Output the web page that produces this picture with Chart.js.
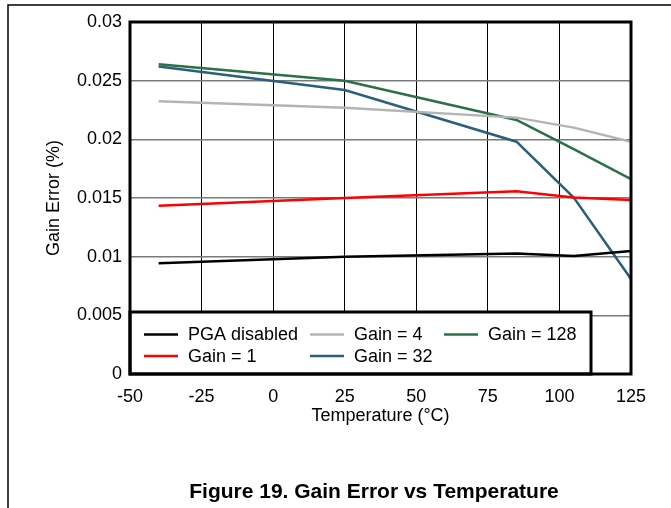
<!DOCTYPE html>
<html>
<head>
<meta charset="utf-8">
<script src="https://cdn.jsdelivr.net/npm/chart.js@4/dist/chart.umd.min.js"></script>
<style>
  html, body { margin: 0; padding: 0; background: #fff; }
  canvas { display: block; }
</style>
</head>
<body>
<canvas id="chart" width="671" height="508"></canvas>
<script>
// temperatures where the curves were measured
var temps = [-40, 25, 85, 105, 125];

// gain error (%) per configuration
var pgaDisabled = [0.00943, 0.0100, 0.01028, 0.01005, 0.01048];
var gain1 = [0.01434, 0.0150, 0.01557, 0.01505, 0.01483];
var gain4 = [0.02324, 0.0227, 0.02185, 0.0210, 0.0198];
var gain32 = [0.0262, 0.0242, 0.0198, 0.01503, 0.0081];
var gain128 = [0.02639, 0.0250, 0.02165, 0.01916, 0.0166];

var seriesNames = ['PGA disabled', 'Gain = 1', 'Gain = 4', 'Gain = 32', 'Gain = 128'];
var seriesColors = ['#000000', '#ff0000', '#b4b4b4', '#2b5f7e', '#2a7049'];
var seriesValues = [pgaDisabled, gain1, gain4, gain32, gain128];

var xTicks = [-50, -25, 0, 25, 50, 75, 100, 125];
var yTicks = [0, 0.005, 0.01, 0.015, 0.02, 0.025, 0.03];

var FONT = '"Liberation Sans", Arial, Helvetica, sans-serif';

function toPoints(values) {
    return values.map(function (v, i) { return { x: temps[i], y: v }; });
}

var datasets = seriesNames.map(function (name, i) {
    return {
        label: name,
        data: toPoints(seriesValues[i]),
        borderColor: seriesColors[i],
        backgroundColor: seriesColors[i],
        borderWidth: 2.5,
        pointRadius: 0,
        tension: 0,
        fill: false
    };
});

// frame, plot border, legend box and titles
var decorations = {
    id: 'decorations',
    afterDatasetsDraw: function (chart) {
        var ctx = chart.ctx;
        var a = chart.chartArea;
        ctx.save();

        // page frame
        ctx.strokeStyle = '#000';
        ctx.lineWidth = 1.5;
        ctx.beginPath();
        ctx.moveTo(8, 508);
        ctx.lineTo(8, 5);
        ctx.lineTo(671, 5);
        ctx.stroke();

        // legend box (column-major, 2 rows)
        var box = { left: a.left, top: 312, right: 591, bottom: a.bottom };
        ctx.fillStyle = '#fff';
        ctx.fillRect(box.left, box.top, box.right - box.left, box.bottom - box.top);
        ctx.lineWidth = 3;
        ctx.strokeRect(box.left, box.top, box.right - box.left, box.bottom - box.top);

        var colX = [144, 310, 444];
        var rowY = [334.5, 356];
        ctx.font = '18px ' + FONT;
        ctx.textBaseline = 'middle';
        ctx.textAlign = 'left';
        chart.data.datasets.forEach(function (ds, i) {
            var x = colX[Math.floor(i / 2)];
            var y = rowY[i % 2];
            ctx.strokeStyle = ds.borderColor;
            ctx.lineWidth = 2.5;
            ctx.beginPath();
            ctx.moveTo(x, y);
            ctx.lineTo(x + 34, y);
            ctx.stroke();
            ctx.fillStyle = '#000';
            ctx.fillText(ds.label, x + 44, y + 1);
        });

        // plot border
        ctx.strokeStyle = '#000';
        ctx.lineWidth = 3;
        ctx.strokeRect(a.left, a.top, a.right - a.left, a.bottom - a.top);

        // axis titles
        ctx.fillStyle = '#000';
        ctx.font = '18px ' + FONT;
        ctx.textAlign = 'center';
        ctx.textBaseline = 'middle';
        ctx.fillText('Temperature (\u00B0C)', (a.left + a.right) / 2, 416);

        ctx.save();
        ctx.translate(54, (a.top + a.bottom) / 2);
        ctx.rotate(-Math.PI / 2);
        ctx.fillText('Gain Error (%)', 0, 0);
        ctx.restore();

        ctx.font = 'bold 21px ' + FONT;
        ctx.fillText('Figure 19. Gain Error vs Temperature', 374, 492);

        ctx.restore();
    }
};

new Chart(document.getElementById('chart'), {
    type: 'line',
    data: { datasets: datasets },
    plugins: [decorations],
    options: {
        responsive: false,
        animation: false,
        layout: { padding: { left: 0, top: 22, right: 40, bottom: 0 } },
        plugins: {
            legend: { display: false },
            tooltip: { enabled: false },
            title: { display: false }
        },
        scales: {
            x: {
                type: 'linear',
                min: xTicks[0],
                max: xTicks[xTicks.length - 1],
                afterBuildTicks: function (scale) {
                    scale.ticks = xTicks.map(function (v) { return { value: v }; });
                },
                afterFit: function (scale) { scale.height = 508 - 374; },
                grid: { color: '#000', lineWidth: 1, drawTicks: false },
                border: { display: false },
                ticks: {
                    padding: 12,
                    color: '#000',
                    font: { family: FONT, size: 18 },
                    maxRotation: 0,
                    callback: function (v) { return String(v); }
                }
            },
            y: {
                type: 'linear',
                min: yTicks[0],
                max: yTicks[yTicks.length - 1],
                afterBuildTicks: function (scale) {
                    scale.ticks = yTicks.map(function (v) { return { value: v }; });
                },
                afterFit: function (scale) { scale.width = 130; },
                grid: { color: '#7a7a7a', lineWidth: 1.5, drawTicks: false },
                border: { display: false },
                ticks: {
                    padding: 8,
                    color: '#000',
                    font: { family: FONT, size: 18 },
                    callback: function (v) { return String(+v.toFixed(3)); }
                }
            }
        }
    }
});
</script>
</body>
</html>
